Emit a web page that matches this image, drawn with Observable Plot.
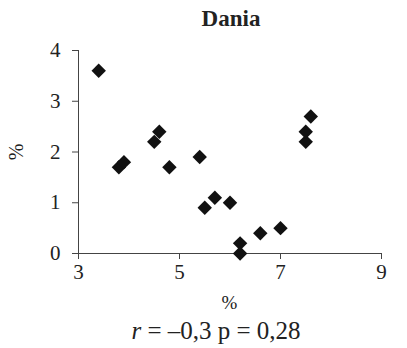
<!DOCTYPE html>
<html>
<head>
<meta charset="utf-8">
<script src="https://cdn.jsdelivr.net/npm/d3@7"></script>
<script src="https://cdn.jsdelivr.net/npm/@observablehq/plot@0.6"></script>
<style>
  html, body { margin: 0; padding: 0; background: #fff; }
  #chart { width: 407px; height: 348px; }
</style>
</head>
<body>
<div id="chart"></div>
<script>
const title = "Dania";
const xValues = [3.4, 3.8, 3.9, 4.5, 4.6, 4.8, 5.4, 5.5, 5.7, 6.0, 6.2, 6.2, 6.6, 7.0, 7.5, 7.5, 7.6];
const yValues = [3.6, 1.7, 1.8, 2.2, 2.4, 1.7, 1.9, 0.9, 1.1, 1.0, 0.2, 0.0, 0.4, 0.5, 2.2, 2.4, 2.7];
const xTicks = [3, 5, 7, 9];
const yTicks = [0, 1, 2, 3, 4];
const xLabel = "%";
const yLabel = "%";
const statR = "–0,3";
const statP = "0,28";

const data = xValues.map((x, i) => ({x, y: yValues[i]}));
const ff = "'Liberation Serif', 'Times New Roman', Times, serif";

const plot = Plot.plot({
  width: 407,
  height: 348,
  marginLeft: 78,
  marginRight: 26,
  marginTop: 50,
  marginBottom: 95,
  style: {fontFamily: ff, fontSize: "21px", color: "#222", background: "#fff"},
  x: {domain: [3, 9]},
  y: {domain: [0, 4]},
  marks: [
    Plot.ruleX([3], {y1: 0, y2: 4, stroke: "#444", strokeWidth: 1}),
    Plot.ruleY([0], {x1: 3, x2: 9, stroke: "#444", strokeWidth: 1}),
    Plot.axisY({ticks: yTicks, tickFormat: "d", tickSize: 6, tickPadding: 12, label: null, stroke: "#444", fill: "#222", fontSize: 21}),
    Plot.axisX({ticks: xTicks, tickFormat: "d", tickSize: 6, tickPadding: 5, label: null, stroke: "#444", fill: "#222", fontSize: 21}),
    Plot.dot(data, {x: "x", y: "y", symbol: "diamond2", r: 6.5, fill: "#111", stroke: "none"})
  ]
});

const svg = d3.select(plot);
svg.append("text").attr("x", 231).attr("y", 26).attr("text-anchor", "middle")
  .style("font-family", ff).attr("font-size", 23).attr("font-weight", "bold").attr("fill", "#222").text(title);
svg.append("text").attr("x", 229.5).attr("y", 309).attr("text-anchor", "middle")
  .style("font-family", ff).attr("font-size", 19).attr("fill", "#222").text(xLabel);
svg.append("text").attr("transform", "translate(23,152) rotate(-90)").attr("text-anchor", "middle")
  .style("font-family", ff).attr("font-size", 20).attr("fill", "#222").text(yLabel);
const cap = svg.append("text").attr("x", 216).attr("y", 339).attr("text-anchor", "middle")
  .style("font-family", ff).attr("font-size", 25).attr("fill", "#222");
cap.append("tspan").attr("font-style", "italic").text("r");
cap.append("tspan").text(` = ${statR} p = ${statP}`);

document.getElementById("chart").appendChild(plot);
</script>
</body>
</html>
